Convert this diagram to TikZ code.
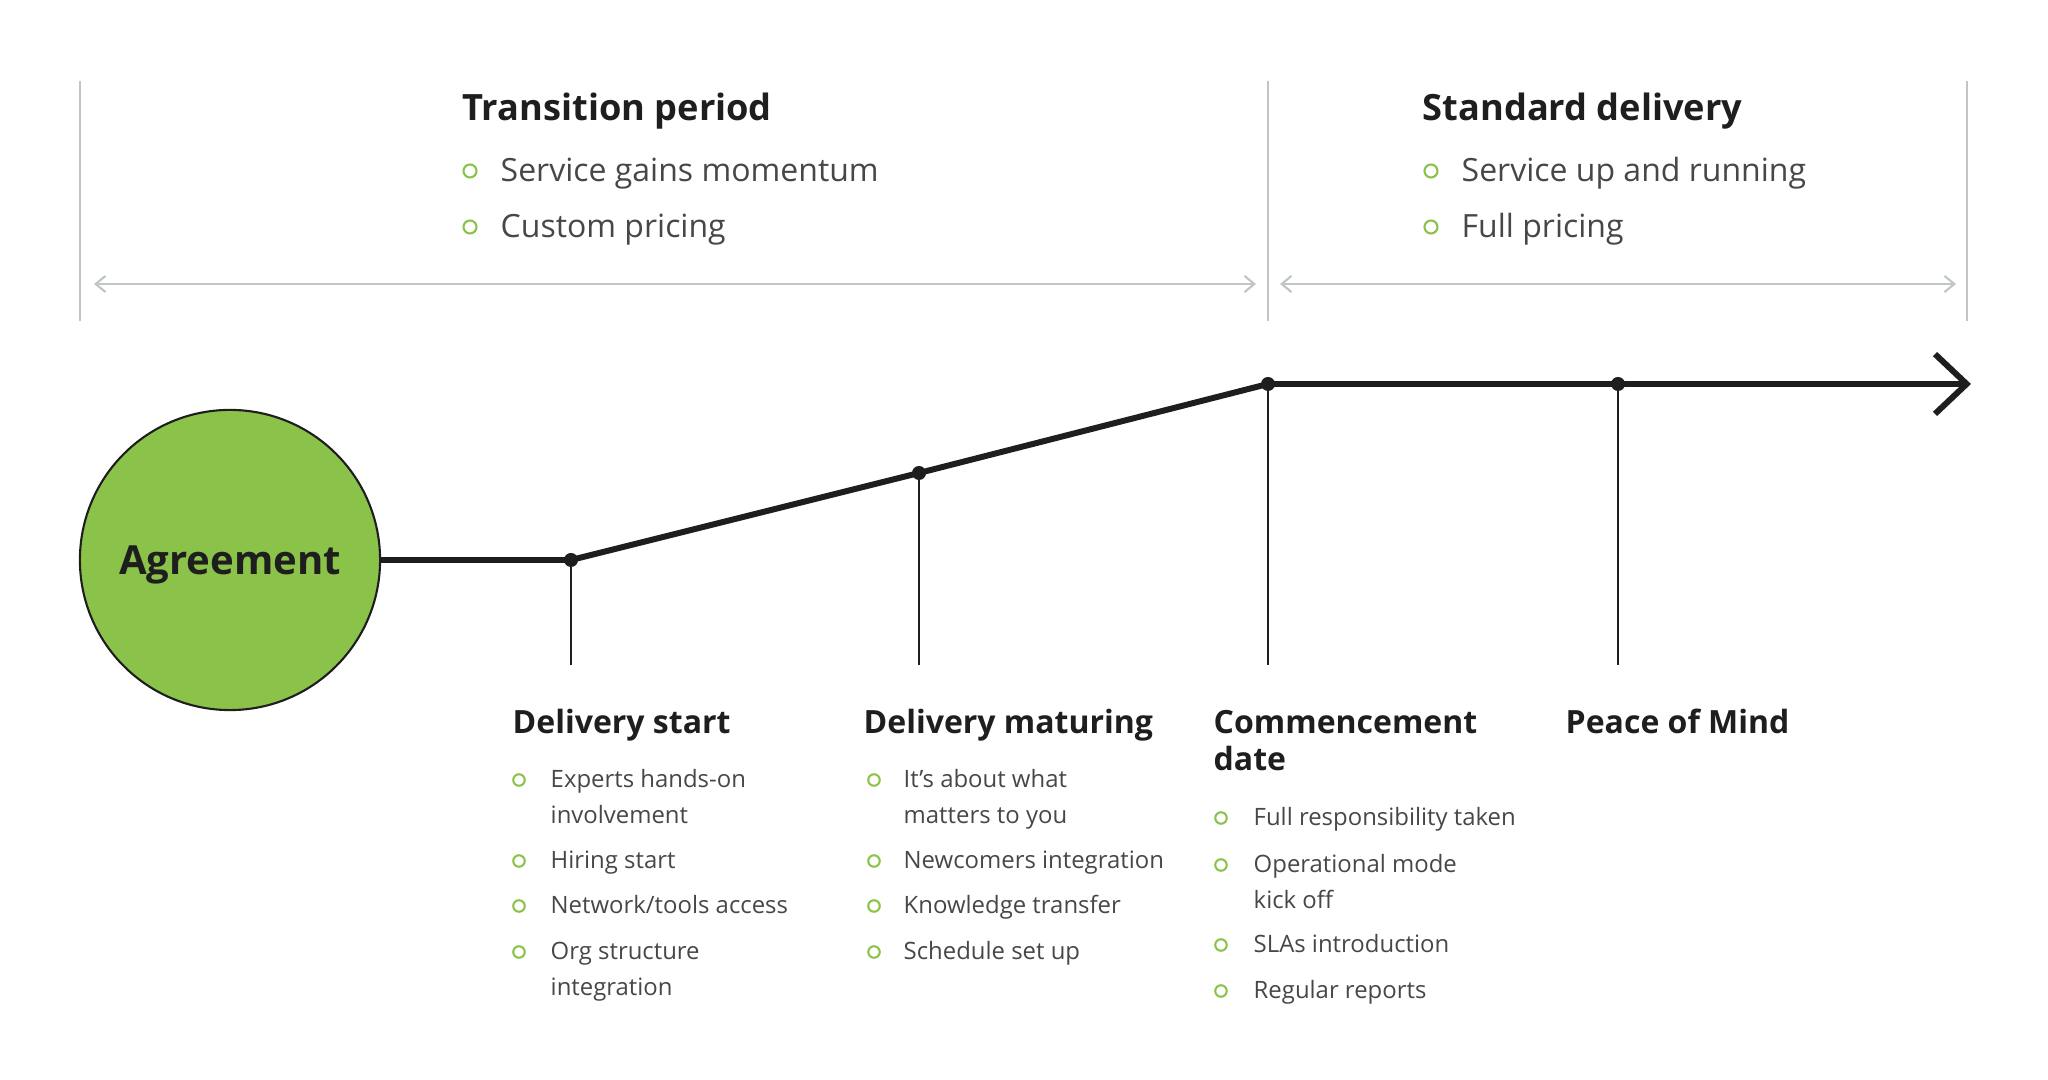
\documentclass[tikz,border=0pt]{standalone}
\usepackage{fontspec}
\setmainfont{Open Sans}
\usetikzlibrary{arrows.meta,positioning}
\definecolor{leaf}{HTML}{8BC34A}
\definecolor{ink}{HTML}{1E1E1E}
\definecolor{txt}{HTML}{474747}
\definecolor{rulegray}{HTML}{C0C5C8}
\newcommand{\twoline}[2]{\vtop{\hbox{#1}\hbox{#2}}}

\begin{document}
\begin{tikzpicture}[x=0.01cm,y=-0.01cm,
  tp/.style={anchor=base west,inner sep=0pt,text=ink,font=\bfseries\fontsize{10.3}{12}\selectfont},
  bt/.style={anchor=base west,inner sep=0pt,text=txt,font=\fontsize{9.1}{11}\selectfont},
  hd/.style={anchor=base west,inner sep=0pt,text=ink,font=\bfseries\fontsize{9.1}{10.5}\selectfont},
  it/.style={anchor=base west,inner sep=0pt,text=txt,font=\fontsize{6.8}{9.96}\selectfont},
  bul/.style={circle,draw=leaf,line width=0.6pt,inner sep=0pt,minimum size=0.115cm},
  bulbig/.style={bul,minimum size=0.13cm},
  span/.style={draw=rulegray,line width=0.6pt,{Straight Barb[length=2.8pt,width=4.6pt]}-{Straight Barb[length=2.8pt,width=4.6pt]}},
  ms/.style={circle,fill=ink,inner sep=0pt,minimum size=0.14cm}]
\useasboundingbox (0,0) rectangle (2048,1080);
\draw[rulegray,line width=0.6pt] (80,81) -- (80,321) (1268,81) -- (1268,321) (1967,81) -- (1967,321);
\draw[span] (94,284) -- (1256,284);
\draw[span] (1280,284) -- (1956,284);
\node[tp] (tr) at (462,121) {Transition period};
\node[bt] (tr1) at (500,182) {Service gains momentum};
\node[bt] (tr2) at (500,238) {Custom pricing};
\node[tp] (sd) at (1422,121) {Standard delivery};
\node[bt] (sd1) at (1461,182) {Service up and running};
\node[bt] (sd2) at (1461,238) {Full pricing};
\foreach \xx in {470,1431} {\node[bulbig] at (\xx,171) {}; \node[bulbig] at (\xx,227) {};}
\node[circle,draw=ink,fill=leaf,line width=0.6pt,minimum size=3cm,inner sep=0pt,text depth=0pt,text=ink,font=\bfseries\fontsize{11.4}{13}\selectfont] (agr) at (230,560) {Agreement};
\coordinate (m1) at (571,560);
\coordinate (m2) at (919,473);
\coordinate (m3) at (1268,384);
\coordinate (m4) at (1618,384);
\coordinate (tip) at (1971,384);
\foreach \m/\xx in {1/571,2/919,3/1268,4/1618} {\draw[ink,line width=0.6pt] (m\m) -- (\xx,665);}
\draw[ink,line width=1.7pt] (agr.east) -- (m1) -- (m2) -- (m3) -- (m4);
\draw[ink,line width=1.7pt,-{Straight Barb[length=9pt,width=17pt]}] (m4) -- (tip);
\foreach \m in {1,2,3,4} {\node[ms] (dot\m) at (m\m) {};}
\node[hd] (ds) at (512,734) {Delivery start};
\node[hd] (dm) at (863,734) {Delivery maturing};
\node[hd] (cd) at (1213,734) {\twoline{Commencement}{date}};
\node[hd] (pm) at (1565,734) {Peace of Mind};
\foreach \yy/\tx [count=\i] in {788/{\twoline{Experts hands-on}{involvement}},869/{Hiring start},914/{Network/tools access},960/{\twoline{Org structure}{integration}}}
  {\node[it] (ds\i) at (550,\yy) {\tx}; \node[bul] at (519,\yy-8) {};}
\foreach \yy/\tx [count=\i] in {788/{\twoline{It’s about what}{matters to you}},869/{Newcomers integration},914/{Knowledge transfer},960/{Schedule set up}}
  {\node[it] (dm\i) at (903,\yy) {\tx}; \node[bul] at (874,\yy-8) {};}
\foreach \yy/\tx [count=\i] in {826/{Full responsibility taken},873/{\twoline{Operational mode}{kick off}},953/{SLAs introduction},999/{Regular reports}}
  {\node[it] (cd\i) at (1253,\yy) {\tx}; \node[bul] at (1221,\yy-8) {};}
\end{tikzpicture}
\end{document}
